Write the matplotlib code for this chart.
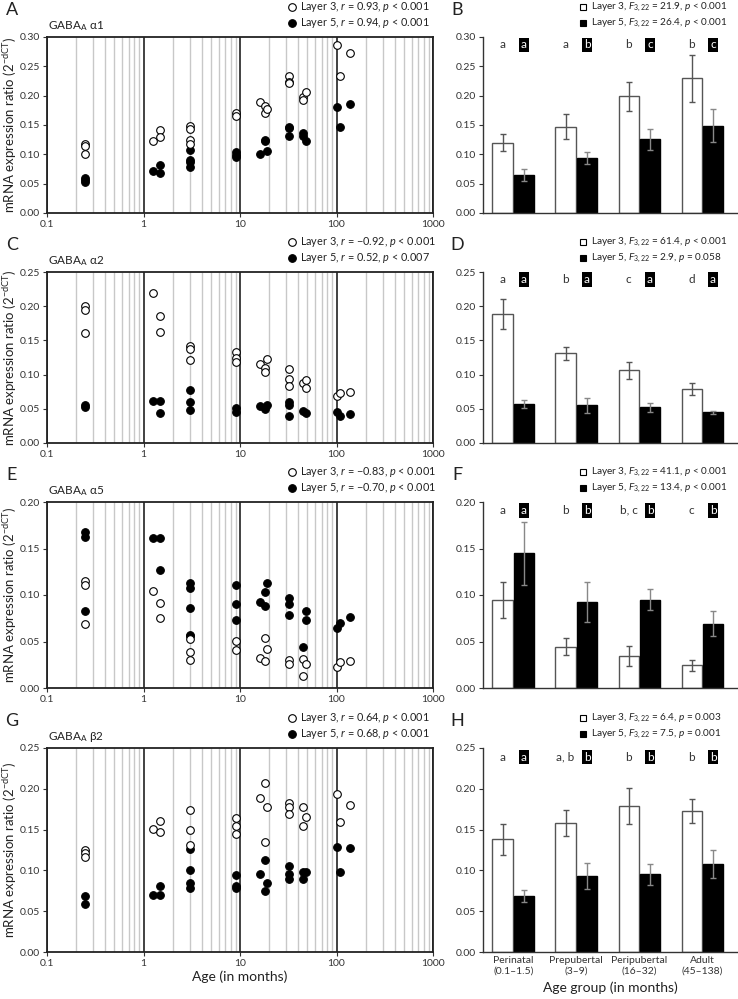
import numpy as np
import matplotlib
matplotlib.use("Agg")
import matplotlib.pyplot as plt
from matplotlib.lines import Line2D
from matplotlib.ticker import LogLocator, FormatStrFormatter, MultipleLocator, NullFormatter

plt.rcParams['font.family'] = ['Lato', 'DejaVu Sans']
plt.rcParams['mathtext.fontset'] = 'custom'
plt.rcParams['mathtext.rm'] = 'Lato'
plt.rcParams['mathtext.it'] = 'Lato:italic'
plt.rcParams['mathtext.bf'] = 'Lato:bold'

W, H = 738, 999

# Ages (months) of each sample column
ages = [0.25, 1.25, 1.5, 3, 9, 16, 18, 19, 32, 45, 48, 102, 108, 138]

# GABAA a1
a1_l3 = [[0.118, 0.114, 0.100], [0.123], [0.142, 0.130], [0.149, 0.144, 0.124, 0.118],
         [0.170, 0.165], [0.190], [0.183, 0.170], [0.177], [0.233, 0.223, 0.222],
         [0.198, 0.193], [0.207], [0.286], [0.233], [0.272]]
a1_l5 = [[0.060, 0.057, 0.053], [0.071], [0.081, 0.069], [0.108, 0.091, 0.087, 0.078],
         [0.104, 0.099, 0.095], [0.100], [0.124, 0.122], [0.105], [0.147, 0.145, 0.132],
         [0.136, 0.131], [0.122], [0.181], [0.146], [0.186]]
# GABAA a2
a2_l3 = [[0.201, 0.194, 0.161], [0.219], [0.186, 0.162], [0.142, 0.137, 0.121],
         [0.133, 0.125, 0.119], [0.115], [0.110, 0.104], [0.123], [0.108, 0.094, 0.083],
         [0.088], [0.092, 0.081], [0.069], [0.073], [0.074]]
a2_l5 = [[0.056, 0.052], [0.062], [0.062, 0.044], [0.077, 0.060, 0.048],
         [0.051, 0.046], [0.054], [0.049], [0.055], [0.060, 0.055, 0.040],
         [0.047], [0.044], [0.045], [0.040], [0.042]]
# GABAA a5
a5_l3 = [[0.115, 0.111, 0.069], [0.104], [0.091, 0.075], [0.0525, 0.039, 0.030],
         [0.051, 0.041], [0.032], [0.054, 0.029], [0.042], [0.030, 0.026],
         [0.031, 0.0125], [0.026], [0.023], [0.0275], [0.0285]]
a5_l5 = [[0.168, 0.162, 0.0825], [0.161], [0.161, 0.127], [0.1125, 0.108, 0.086, 0.057, 0.056],
         [0.111, 0.090, 0.073], [0.093], [0.103, 0.088], [0.113], [0.097, 0.090, 0.079],
         [0.044], [0.083, 0.073], [0.064], [0.070], [0.076]]
# GABAA b2
b2_l3 = [[0.125, 0.121, 0.116], [0.151], [0.160, 0.147], [0.174, 0.149, 0.131],
         [0.164, 0.155, 0.144], [0.189], [0.207, 0.135], [0.178], [0.182, 0.178, 0.169],
         [0.178, 0.154], [0.166], [0.194], [0.159], [0.180]]
b2_l5 = [[0.069, 0.059], [0.070], [0.081, 0.070], [0.126, 0.100, 0.084, 0.079],
         [0.094, 0.081, 0.079], [0.095], [0.113, 0.0745], [0.084], [0.105, 0.095, 0.090],
         [0.098, 0.089], [0.098], [0.129], [0.098], [0.128]]

# Age-group bar data (mean, error)
groups = ['Perinatal\n(0.1–1.5)', 'Prepubertal\n(3–9)', 'Peripubertal\n(16–32)', 'Adult\n(45–138)']
bar_a1_l3 = [0.120, 0.147, 0.199, 0.230]
bar_a1_l3_err = [0.014, 0.021, 0.025, 0.040]
bar_a1_l5 = [0.065, 0.094, 0.126, 0.149]
bar_a1_l5_err = [0.010, 0.010, 0.018, 0.028]
bar_a2_l3 = [0.188, 0.131, 0.106, 0.079]
bar_a2_l3_err = [0.022, 0.009, 0.013, 0.009]
bar_a2_l5 = [0.057, 0.055, 0.052, 0.045]
bar_a2_l5_err = [0.006, 0.011, 0.0065, 0.0025]
bar_a5_l3 = [0.095, 0.0446, 0.0346, 0.0246]
bar_a5_l3_err = [0.0195, 0.009, 0.0105, 0.006]
bar_a5_l5 = [0.145, 0.092, 0.095, 0.069]
bar_a5_l5_err = [0.034, 0.0215, 0.011, 0.0135]
bar_b2_l3 = [0.138, 0.158, 0.1785, 0.173]
bar_b2_l3_err = [0.0186, 0.0157, 0.022, 0.015]
bar_b2_l5 = [0.0686, 0.093, 0.095, 0.108]
bar_b2_l5_err = [0.0078, 0.016, 0.013, 0.017]

let_a1 = (['a', 'a', 'b', 'b'], ['a', 'b', 'c', 'c'])
let_a2 = (['a', 'b', 'c', 'd'], ['a', 'a', 'a', 'a'])
let_a5 = (['a', 'b', 'b, c', 'c'], ['a', 'b', 'b', 'b'])
let_b2 = (['a', 'a, b', 'b', 'b'], ['a', 'b', 'b', 'b'])

fig = plt.figure(figsize=(W / 100, H / 100), dpi=100)


def box(x0, y0, x1, y1):
    return [x0 / W, 1 - y1 / H, (x1 - x0) / W, (y1 - y0) / H]


def fx(x, y):
    return x / W, 1 - y / H


def legend_row(x, y, marker, fc, label, size):
    fig.add_artist(Line2D([fx(x, y)[0]], [fx(x, y)[1]], transform=fig.transFigure,
                          marker=marker, ms=5.5 if marker == 'o' else 5, mfc=fc,
                          mec='black', mew=0.8, ls=''))
    fig.text(*fx(x + 8, y), label, ha='left', va='center', fontsize=size, color='#222')


def scatter_panel(rect, l3, l5, ymax, gene, leg3, leg5, letter, xlabel=False):
    ax = fig.add_axes(box(*rect))
    x3 = np.repeat(ages, [len(v) for v in l3])
    x5 = np.repeat(ages, [len(v) for v in l5])
    ax.plot(x5, np.concatenate(l5), 'o', ms=5.5, mfc='black', mec='black', mew=0.8, zorder=3)
    ax.plot(x3, np.concatenate(l3), 'o', ms=5.5, mfc='white', mec='black', mew=0.8, zorder=4)
    ax.set_xscale('log')
    ax.set_xlim(0.1, 1000)
    ax.set_ylim(0, ymax)
    ax.set_xticks([0.1, 1, 10, 100, 1000])
    ax.set_xticklabels(['0.1', '1', '10', '100', '1000'])
    ax.xaxis.set_minor_locator(LogLocator(base=10, subs=np.arange(2, 10), numticks=20))
    ax.xaxis.set_minor_formatter(NullFormatter())
    ax.grid(which='minor', axis='x', color='#c8c8c8', lw=1.0, zorder=0)
    ax.grid(which='major', axis='x', color='#333333', lw=1.3, zorder=1)
    ax.yaxis.set_major_locator(MultipleLocator(0.05))
    ax.yaxis.set_major_formatter(FormatStrFormatter('%.2f'))
    ax.tick_params(axis='both', which='major', labelsize=7.5, length=3, width=0.8,
                   colors='#333', direction='out', pad=2)
    ax.tick_params(axis='x', which='minor', length=0)
    for s in ax.spines.values():
        s.set_linewidth(1.3)
        s.set_color('#222')
    top, bot = rect[1], rect[3]
    fig.text(*fx(10, (top + bot) / 2), 'mRNA expression ratio (2$^{\\mathregular{-dCT}}$)',
             fontsize=9.5, rotation=90, ha='center', va='center', color='#222')
    if xlabel:
        ax.set_xlabel('Age (in months)', fontsize=10, color='#222', labelpad=2)
    fig.text(*fx(48, top - 11), 'GABA$_\\mathregular{A}$ ' + gene, fontsize=8.5,
             ha='left', va='center', color='#222')
    legend_row(292, top - 30, 'o', 'white', leg3, 7.8)
    legend_row(292, top - 14, 'o', 'black', leg5, 7.8)
    fig.text(*fx(12, top - 27), letter, fontsize=13, ha='center', va='center', color='#222')
    return ax


def bar_panel(rect, m3, e3, m5, e5, ymax, letters, leg3, leg5, letter, xlabels=False):
    ax = fig.add_axes(box(*rect))
    pos = np.arange(len(groups))
    ax.bar(pos - 0.17, m3, 0.32, color='white', edgecolor='#555', lw=1.0, zorder=2)
    ax.bar(pos + 0.17, m5, 0.32, color='black', edgecolor='black', lw=1.0, zorder=2)
    ax.errorbar(pos - 0.17, m3, yerr=e3, fmt='none', ecolor='#555', elinewidth=1.0,
                capsize=2, capthick=1.0, zorder=3)
    ax.errorbar(pos + 0.17, m5, yerr=e5, fmt='none', ecolor='#888', elinewidth=1.0,
                capsize=2, capthick=1.0, zorder=3)
    ax.set_xlim(-0.48, 3.55)
    ax.set_ylim(0, ymax)
    ax.yaxis.set_major_locator(MultipleLocator(0.05))
    ax.yaxis.set_major_formatter(FormatStrFormatter('%.2f'))
    ax.tick_params(axis='y', labelsize=7.5, length=3, width=0.8, colors='#333', pad=2)
    for s in ['top', 'right']:
        ax.spines[s].set_visible(False)
    for s in ['left', 'bottom']:
        ax.spines[s].set_linewidth(1.0)
        ax.spines[s].set_color('#333')
    ax.set_xticks(pos)
    if xlabels:
        ax.set_xticklabels(groups, fontsize=7.5, color='#333')
        ax.tick_params(axis='x', length=0, pad=3)
        ax.set_xlabel('Age group (in months)', fontsize=10, color='#222', labelpad=4)
    else:
        ax.set_xticklabels([])
        ax.tick_params(axis='x', length=0)
    ly = ymax * 0.955
    for i in range(len(groups)):
        ax.text(pos[i] - 0.17, ly, letters[0][i], ha='center', va='center', fontsize=8.5, color='#333')
        ax.text(pos[i] + 0.17, ly, letters[1][i], ha='center', va='center', fontsize=8.5,
                color='white', bbox=dict(boxstyle='square,pad=0.15', fc='black', ec='none'))
    top = rect[1]
    legend_row(583, top - 30, 's', 'white', leg3, 7.2)
    legend_row(583, top - 14, 's', 'black', leg5, 7.2)
    fig.text(*fx(457, top - 27), letter, fontsize=13, ha='center', va='center', color='#222')
    return ax


F = '$F_{\\mathregular{3,22}}$'

scatter_panel((47, 37, 433, 213), a1_l3, a1_l5, 0.30, 'α1',
              'Layer 3, $r$ = 0.93, $p$ < 0.001', 'Layer 5, $r$ = 0.94, $p$ < 0.001', 'A')
scatter_panel((47, 272, 433, 443), a2_l3, a2_l5, 0.25, 'α2',
              'Layer 3, $r$ = −0.92, $p$ < 0.001', 'Layer 5, $r$ = 0.52, $p$ < 0.007', 'C')
scatter_panel((47, 502, 433, 688), a5_l3, a5_l5, 0.20, 'α5',
              'Layer 3, $r$ = −0.83, $p$ < 0.001', 'Layer 5, $r$ = −0.70, $p$ < 0.001', 'E')
scatter_panel((47, 748, 433, 952), b2_l3, b2_l5, 0.25, 'β2',
              'Layer 3, $r$ = 0.64, $p$ < 0.001', 'Layer 5, $r$ = 0.68, $p$ < 0.001', 'G',
              xlabel=True)

bar_panel((483, 37, 737, 213), bar_a1_l3, bar_a1_l3_err, bar_a1_l5, bar_a1_l5_err, 0.30, let_a1,
          'Layer 3, ' + F + ' = 21.9, $p$ < 0.001', 'Layer 5, ' + F + ' = 26.4, $p$ < 0.001', 'B')
bar_panel((483, 272, 737, 443), bar_a2_l3, bar_a2_l3_err, bar_a2_l5, bar_a2_l5_err, 0.25, let_a2,
          'Layer 3, ' + F + ' = 61.4, $p$ < 0.001', 'Layer 5, ' + F + ' = 2.9, $p$ = 0.058', 'D')
bar_panel((483, 502, 737, 688), bar_a5_l3, bar_a5_l3_err, bar_a5_l5, bar_a5_l5_err, 0.20, let_a5,
          'Layer 3, ' + F + ' = 41.1, $p$ < 0.001', 'Layer 5, ' + F + ' = 13.4, $p$ < 0.001', 'F')
bar_panel((483, 748, 737, 952), bar_b2_l3, bar_b2_l3_err, bar_b2_l5, bar_b2_l5_err, 0.25, let_b2,
          'Layer 3, ' + F + ' = 6.4, $p$ = 0.003', 'Layer 5, ' + F + ' = 7.5, $p$ = 0.001', 'H',
          xlabels=True)

fig.savefig('out.png', dpi=100)
